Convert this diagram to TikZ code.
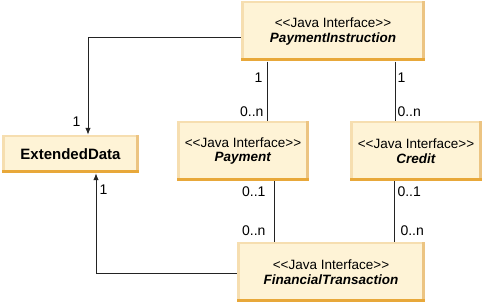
\documentclass[tikz,border=0pt]{standalone}
\usepackage{fontspec}
\setmainfont{Liberation Sans}[Ligatures=TeXOff]
\usetikzlibrary{arrows.meta}
\definecolor{boxfill}{RGB}{254,243,214}
\definecolor{boxlite}{RGB}{246,222,176}
\definecolor{boxside}{RGB}{236,196,130}
\definecolor{boxedge}{RGB}{232,168,58}
\definecolor{wire}{RGB}{35,35,35}

\begin{document}
\begin{tikzpicture}[x=1pt, y=1pt,
  iface/.style={fill=boxfill, minimum width=#1, minimum height=60pt, inner sep=0pt, align=center,
    font=\fontsize{13.5}{14.5}\selectfont,
    path picture={
      \fill[boxlite] (path picture bounding box.north west) rectangle ([xshift=3pt]path picture bounding box.south west);
      \fill[boxlite] (path picture bounding box.north west) rectangle ([yshift=-2pt]path picture bounding box.north east);
      \fill[boxside] ([xshift=-3pt]path picture bounding box.north east) rectangle (path picture bounding box.south east);
      \fill[boxedge] (path picture bounding box.south west) rectangle ([yshift=3pt]path picture bounding box.south east);
    }},
  lbl/.style={font=\fontsize{14}{16}\selectfont, inner sep=2pt},
  link/.style={draw=wire, line width=1pt},
  >={Latex[length=7pt,width=5.5pt]}]
  \useasboundingbox (0,0) rectangle (483,304);
  \node[iface=184pt] (PI) at (333,272.5) {<<Java Interface>>\\\textbf{\textit{PaymentInstruction}}};
  \node[iface=137pt, minimum height=38pt, font=\fontsize{15}{18}\selectfont\bfseries] (ED) at (70.5,150) {ExtendedData};
  \node[iface=132pt] (Pay) at (243,153) {<<Java Interface>>\\\textbf{\textit{Payment}}};
  \node[iface=132pt] (Cr) at (416,153) {<<Java Interface>>\\\textbf{\textit{Credit}}};
  \node[iface=188pt] (FT) at (331,32) {<<Java Interface>>\\\textbf{\textit{FinancialTransaction}}};
  \draw[link, ->] ([yshift=-6.5pt]PI.west) -| node[lbl, pos=0.93, left=5pt] {1} ([xshift=17.5pt]ED.north);
  \draw[link, ->] ([yshift=-2pt]FT.west) -| node[lbl, pos=0.92, right=1pt] {1} ([xshift=25.5pt]ED.south);
  \draw[link] ([xshift=-66pt]PI.south) -- node[lbl, pos=0.27, left=2pt] {1} node[lbl, pos=0.85, left=1pt] {0..n} ([xshift=24pt]Pay.north);
  \draw[link] ([xshift=62pt]PI.south) -- node[lbl, pos=0.27, right=0pt] {1} node[lbl, pos=0.85, right=0pt] {0..n} ([xshift=-21pt]Cr.north);
  \draw[link] ([xshift=31pt]Pay.south) -- node[lbl, pos=0.18, left=6pt] {0..1} node[lbl, pos=0.82, left=6pt] {0..n} ([xshift=-57pt]FT.north);
  \draw[link] ([xshift=-22pt]Cr.south) -- node[lbl, pos=0.18, right=1pt] {0..1} node[lbl, pos=0.82, right=4pt] {0..n} ([xshift=63pt]FT.north);
\end{tikzpicture}
\end{document}
